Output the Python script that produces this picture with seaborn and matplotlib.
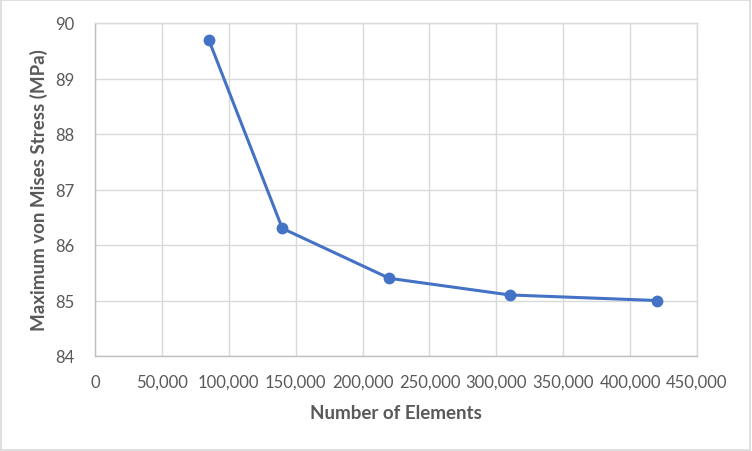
"""
Mesh convergence: maximum von Mises stress against element count.
"""
import matplotlib as mpl
import matplotlib.pyplot as plt
from matplotlib.patches import Rectangle
from matplotlib.ticker import FuncFormatter, MultipleLocator
import pandas as pd
import seaborn as sns

ELEMENTS = [85000, 140000, 220000, 310000, 420000]
MAX_STRESS_MPA = [89.7, 86.3, 85.4, 85.1, 85.0]

LINE_COLOR = "#4472C4"
GRID_COLOR = "#D9D9D9"
TEXT_COLOR = "#595959"


def setup_style():
    sns.set_theme(style="white")
    mpl.rcParams.update({
        "font.family": ["Lato", "DejaVu Sans"],
        "axes.edgecolor": GRID_COLOR,
        "axes.linewidth": 1.0,
    })


def make_figure(df: pd.DataFrame) -> plt.Figure:
    setup_style()
    fig = plt.figure(figsize=(7.52, 4.52), dpi=100)
    ax = fig.add_axes([95 / 752, 1 - 357 / 452, 602 / 752, 333 / 452])

    sns.lineplot(
        data=df, x="elements", y="stress", ax=ax,
        color=LINE_COLOR, linewidth=2.2, marker="o", markersize=8.5,
        markeredgewidth=0, markerfacecolor=LINE_COLOR,
    )

    ax.set_xlim(0, 450000)
    ax.set_ylim(84, 90)
    ax.xaxis.set_major_locator(MultipleLocator(50000))
    ax.yaxis.set_major_locator(MultipleLocator(1))
    ax.xaxis.set_major_formatter(FuncFormatter(lambda v, _: f"{int(v):,}"))
    ax.grid(True, color=GRID_COLOR, linewidth=1.0)
    ax.set_axisbelow(True)
    for side in ["left", "bottom"]:
        ax.spines[side].set_color("#BFBFBF")

    ax.tick_params(axis="both", length=0, labelsize=12, labelcolor=TEXT_COLOR)
    ax.tick_params(axis="x", pad=13)
    ax.tick_params(axis="y", pad=15)

    label_font = {"fontsize": 13.5, "fontweight": "bold", "color": TEXT_COLOR}
    ax.set_xlabel("Number of Elements", labelpad=10, **label_font)
    ax.set_ylabel("Maximum von Mises Stress (MPa)", labelpad=5, **label_font)

    # Excel-style chart border
    fig.add_artist(Rectangle((0.001, 0.002), 0.997, 0.995, transform=fig.transFigure,
                             fill=False, edgecolor="#D9D9D9", linewidth=1.2))
    return fig


def main():
    df = pd.DataFrame({"elements": ELEMENTS, "stress": MAX_STRESS_MPA})
    fig = make_figure(df)
    fig.savefig("out.png", dpi=100, facecolor="white")
    plt.close(fig)


if __name__ == "__main__":
    main()
